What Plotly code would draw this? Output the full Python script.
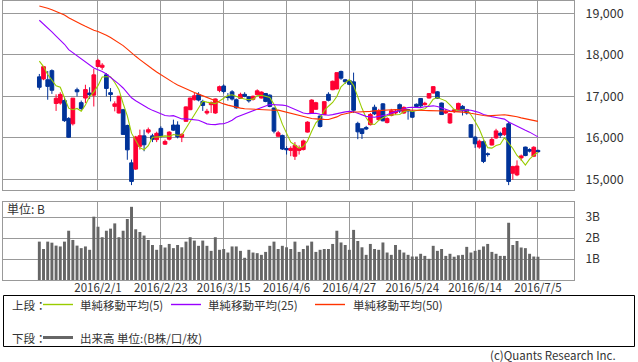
import plotly.graph_objects as go
import pandas as pd

W, H = 638, 362

# ---- data (Nikkei 225, 2016/1/12 - 2016/7/5) ----
dates = ["1/12","1/13","1/14","1/15","1/18","1/19","1/20","1/21","1/22","1/25","1/26","1/27","1/28","1/29",
 "2/1","2/2","2/3","2/4","2/5","2/8","2/9","2/10","2/12","2/15","2/16","2/17","2/18","2/19","2/22","2/23",
 "2/24","2/25","2/26","2/29","3/1","3/2","3/3","3/4","3/7","3/8","3/9","3/10","3/11","3/14","3/15",
 "3/16","3/17","3/18","3/22","3/23","3/24","3/25","3/28","3/29","3/30","3/31","4/1","4/4","4/5","4/6",
 "4/7","4/8","4/11","4/12","4/13","4/14","4/15","4/18","4/19","4/20","4/21","4/22","4/25","4/26","4/27",
 "4/28","5/2","5/6","5/9","5/10","5/11","5/12","5/13","5/16","5/17","5/18","5/19","5/20","5/23","5/24",
 "5/25","5/26","5/27","5/30","5/31","6/1","6/2","6/3","6/6","6/7","6/8","6/9","6/10","6/13","6/14",
 "6/15","6/16","6/17","6/20","6/21","6/22","6/23","6/24","6/27","6/28","6/29","6/30","7/1","7/4","7/5"]

opens = [17470,17420,17400,17620,16830,16840,16900,16470,16340,17160,16850,16960,17080,17030,
 17720,17700,17520,17090,16760,16600,16680,16300,15400,15250,15800,16050,16140,16050,15960,16230,
 15850,15970,16310,16310,16020,16400,16680,16920,17040,16880,16600,16800,16600,17140,17250,
 17000,17110,16920,16950,17050,16990,16930,17040,16960,17070,17030,16720,16040,16060,15745,
 15700,15560,15700,15720,16140,16600,16690,16527,16560,17050,17160,17180,17600,17400,17380,
 17350,16350,16220,16250,16320,16740,16440,16820,16370,16540,16600,16800,16600,16680,16640,
 16810,16950,16800,16960,17080,17110,16840,16600,16360,16640,16680,16760,16680,16320,16019,
 15780,15910,15620,15830,16000,16110,16080,16340,15150,15110,15520,15780,15720,15560,15700]
highs = [17540,17720,17610,17650,17050,17100,16980,16500,16960,17210,16900,17280,17220,17661,
 17905,17800,17560,17200,16880,17010,16700,16320,15480,16050,16200,16200,16250,16100,16150,16280,
 15960,16160,16440,16400,16110,16760,16970,17090,17100,16920,16700,16880,16950,17260,17290,
 17080,17150,16950,17090,17100,17010,17020,17170,17120,17080,17050,16730,16170,16080,15800,
 15800,15900,15820,15960,16400,16930,16870,16540,16880,17100,17380,17580,17620,17420,17400,
 17572,16390,16220,16290,16600,16800,16700,16840,16500,16700,16680,16830,16760,16700,16660,
 16830,16960,16870,17080,17250,17130,16850,16700,16600,16700,16850,16790,16700,16330,16050,
 15960,15940,15650,16020,16220,16150,16260,16390,15330,15460,15600,15790,15750,15800,15720]
lows = [17160,17390,16920,17060,16650,16800,16387,16000,16300,17000,16660,16840,16940,16757,
 17700,17640,17000,16880,16640,16590,16080,15474,14865,15230,15720,15680,16100,15900,15900,16000,
 15830,15940,16170,15990,15900,16390,16670,16900,16880,16650,16560,16600,16580,17100,17070,
 16900,16900,16700,16940,16980,16850,16900,17030,16950,16860,16740,16110,16030,15710,15600,
 15560,15471,15600,15700,16130,16590,16680,16250,16550,16880,17150,17170,17400,17300,17270,
 16600,15970,15975,16190,16300,16550,16420,16400,16350,16520,16560,16600,16580,16440,16480,
 16720,16740,16780,16950,17070,16940,16560,16580,16340,16600,16650,16540,16560,16000,15760,
 15740,15395,15550,15820,15980,16000,16050,14864,14990,15080,15450,15560,15650,15540,15640]
closes = [17219,17716,17241,17147,16955,17048,16416,16017,16958,17111,16709,17164,17041,17518,
 17865,17751,17191,17045,16820,17004,16085,15713,14953,16023,16054,15836,16197,15967,16111,16052,
 15916,16140,16188,16027,16086,16747,16960,17015,16911,16783,16642,16852,16939,17234,17117,
 16974,16936,16725,17049,17001,16892,17003,17134,17104,16879,16759,16164,16123,15733,15715,
 15750,15821,15751,15929,16381,16911,16848,16276,16874,16906,17364,17572,17439,17353,17290,
 16666,16147,16107,16216,16565,16579,16646,16412,16466,16653,16645,16647,16736,16655,16499,
 16757,16772,16835,17068,17235,16956,16563,16642,16580,16675,16831,16668,16601,16019,15859,
 15920,15434,15600,15965,16169,16066,16238,14952,15309,15323,15567,15576,15682,15776,15669]
volumes = [1.83,1.48,1.83,1.78,1.64,1.60,1.83,2.35,1.91,1.64,1.52,1.60,1.44,3.02,
 2.54,2.04,2.35,2.45,2.70,2.04,2.35,2.91,3.49,2.42,2.29,2.12,1.91,1.67,1.44,1.67,
 1.55,1.72,1.52,1.67,1.56,1.83,2.04,1.88,1.63,1.88,1.63,1.39,2.04,1.44,1.48,
 1.31,1.60,1.60,1.39,1.06,1.44,1.31,1.28,1.20,1.34,1.63,1.83,1.48,1.63,1.56,
 1.48,1.83,1.34,1.48,1.64,1.83,1.34,1.44,1.48,1.48,1.72,2.35,1.79,1.67,1.44,
 2.39,1.86,1.56,1.20,1.72,1.48,1.44,1.79,1.31,1.20,1.67,1.44,1.31,1.20,1.12,
 1.12,1.25,1.15,1.01,1.63,1.39,1.48,1.15,1.25,1.11,1.18,1.20,1.58,1.31,1.39,
 1.44,1.60,1.72,1.34,1.25,1.15,1.15,2.73,1.67,1.86,1.55,1.52,1.25,1.12,1.11]
# closes before 2016/1/12 (2015/10/27 - 2016/1/8) used only for the moving averages
prior_closes = [18777,18903,18935,19083,18683,19116,19265,19265,19642,19671,19697,19697,19596,19393,
 19649,19649,19859,19879,19924,19847,19944,19883,19747,20012,19938,19939,19504,19698,19492,19301,
 19046,19230,18883,18565,18870,19353,18986,18916,18886,18789,18769,18873,18982,19033,18450,18374,
 18191,17767,17697]

tick_idx = [14, 29, 44, 59, 74, 89, 104, 119]
tick_text = ["2016/2/1", "2016/2/23", "2016/3/15", "2016/4/6", "2016/4/27", "2016/5/24", "2016/6/14", "2016/7/5"]
price_ticks = [15000, 16000, 17000, 18000, 19000]
vol_ticks = [1, 2, 3]
ma_windows = [5, 25, 50]
ma_names = ["単純移動平均(5)", "単純移動平均(25)", "単純移動平均(50)"]

# ---- style ----
UP, DOWN = "#ff0033", "#003399"
MA_COLORS = ["#99cc00", "#9900ff", "#ff3300"]
GRID = "#999999"
FONT = "Noto Sans CJK JP"
TXT = "#333333"
LEG_SIZE = 11.5

def px(x):
    return x / W

def py(y):
    return 1 - y / H

n = len(closes)
xs = list(range(n))
allc = pd.Series(prior_closes + closes, dtype=float)

fig = go.Figure()
fig.add_trace(go.Candlestick(
    x=xs, open=opens, high=highs, low=lows, close=closes,
    increasing=dict(line=dict(color=UP, width=1), fillcolor=UP),
    decreasing=dict(line=dict(color=DOWN, width=1), fillcolor=DOWN),
    whiskerwidth=0, xaxis="x", yaxis="y", showlegend=False, hoverinfo="skip"))
for w, c in zip(ma_windows, MA_COLORS):
    ma = allc.rolling(w).mean().iloc[-n:].tolist()
    fig.add_trace(go.Scatter(x=xs, y=ma, mode="lines", line=dict(color=c, width=1.1),
                             xaxis="x", yaxis="y", showlegend=False, hoverinfo="skip"))
fig.add_trace(go.Bar(x=xs, y=volumes, marker=dict(color="#666666", line=dict(width=0)),
                     width=0.7, xaxis="x2", yaxis="y2", showlegend=False, hoverinfo="skip"))

xr = [-8.67, 127.6]
xdom = [px(3), px(574)]
common_x = dict(range=xr, domain=xdom, tickmode="array", tickvals=tick_idx,
                showgrid=True, gridcolor=GRID, gridwidth=1, zeroline=False,
                showline=True, mirror=True, linecolor=GRID, linewidth=1, fixedrange=True)

shapes = []
annots = []
annots.append(dict(x=px(5), y=py(208.5), xref="paper", yref="paper", text="単位: B", showarrow=False,
                   xanchor="left", yanchor="middle", font=dict(size=12, color=TXT)))
# legend box
shapes.append(dict(type="rect", xref="paper", yref="paper", x0=px(3.5), x1=px(634.5), y0=py(346.5), y1=py(295.5),
                   line=dict(color="#000000", width=1), fillcolor="rgba(0,0,0,0)"))
row1, row2 = 304.5, 337.5
for lbl, r in (("上段：", row1), ("下段：", row2)):
    annots.append(dict(x=px(10), y=py(r), xref="paper", yref="paper", text=lbl, showarrow=False,
                       xanchor="left", yanchor="middle", font=dict(size=LEG_SIZE, color=TXT)))
leg_x = [(43, 73, 78), (171, 201, 206), (315, 345, 351)]
for (a, b, t), c, name in zip(leg_x, MA_COLORS, ma_names):
    shapes.append(dict(type="line", xref="paper", yref="paper", x0=px(a), x1=px(b), y0=py(row1), y1=py(row1),
                       line=dict(color=c, width=1.4)))
    annots.append(dict(x=px(t), y=py(row1), xref="paper", yref="paper", text=name, showarrow=False,
                       xanchor="left", yanchor="middle", font=dict(size=LEG_SIZE, color=TXT)))
shapes.append(dict(type="line", xref="paper", yref="paper", x0=px(43), x1=px(73), y0=py(row2), y1=py(row2),
                   line=dict(color="#666666", width=3)))
annots.append(dict(x=px(78), y=py(row2), xref="paper", yref="paper", text="出来高 単位:(B株/口/枚)",
                   showarrow=False, xanchor="left", yanchor="middle", font=dict(size=LEG_SIZE, color=TXT)))
annots.append(dict(x=px(618), y=py(355), xref="paper", yref="paper", text="(c)Quants Research Inc.",
                   showarrow=False, xanchor="right", yanchor="middle", font=dict(size=11.5, color=TXT)))

fig.update_layout(
    width=W, height=H, margin=dict(l=0, r=0, t=0, b=0, autoexpand=False),
    paper_bgcolor="white", plot_bgcolor="white",
    font=dict(family=FONT, size=12, color=TXT),
    boxgap=0.12, boxgroupgap=0.0,
    bargap=0.3,
    xaxis=dict(anchor="y", showticklabels=False, rangeslider=dict(visible=False), **common_x),
    yaxis=dict(domain=[py(190), py(1)], range=[14747, 19296], side="right", anchor="x",
               tickmode="array", tickvals=price_ticks, ticktext=[f"{v:,}" for v in price_ticks],
               showgrid=True, gridcolor=GRID, zeroline=False, showline=True, mirror=True,
               linecolor=GRID, ticks="outside", ticklen=8, tickcolor="rgba(0,0,0,0)",
               tickfont=dict(size=12.5, color=TXT)),
    xaxis2=dict(anchor="y2", ticktext=tick_text, showticklabels=True, ticklabelstandoff=-3,
                ticks="", tickfont=dict(size=11.5, color=TXT), **common_x),
    yaxis2=dict(domain=[py(280), py(202)], range=[0, 3.72], side="right", anchor="x2",
                tickmode="array", tickvals=vol_ticks, ticktext=[f"{v}B" for v in vol_ticks],
                showgrid=True, gridcolor=GRID, zeroline=False, showline=True, mirror=True,
                linecolor=GRID, ticks="outside", ticklen=8, tickcolor="rgba(0,0,0,0)",
                tickfont=dict(size=12, color=TXT)),
    shapes=shapes,
    annotations=annots,
)

fig.write_html("out.html", config=dict(displayModeBar=False),
               post_script="document.body.style.margin='0px';document.body.style.overflow='hidden';")
